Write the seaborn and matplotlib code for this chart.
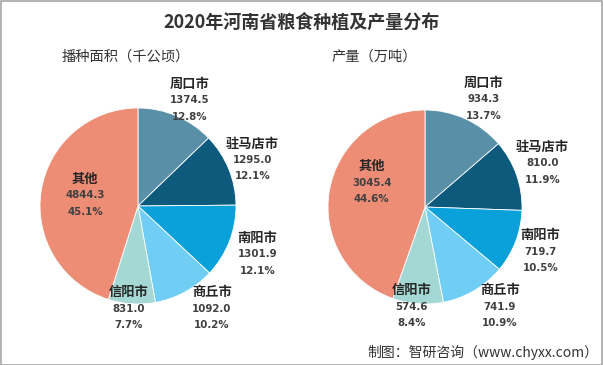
import matplotlib
matplotlib.use("Agg")
import matplotlib.pyplot as plt
import seaborn as sns
from matplotlib.patches import Rectangle

sns.set_style("white")
plt.rcParams['font.family'] = ['Noto Sans CJK SC', 'DejaVu Sans']

# ---- data ----
title = "2020年河南省粮食种植及产量分布"
categories = ["周口市", "驻马店市", "南阳市", "商丘市", "信阳市", "其他"]
area_values = [1374.5, 1295.0, 1301.9, 1092.0, 831.0, 4844.3]
area_pct = ["12.8%", "12.1%", "12.1%", "10.2%", "7.7%", "45.1%"]
output_values = [934.3, 810.0, 719.7, 741.9, 574.6, 3045.4]
output_pct = ["13.7%", "11.9%", "10.5%", "10.9%", "8.4%", "44.6%"]
sub_left = "播种面积（千公顷）"
sub_right = "产量（万吨）"
footer = "制图：智研咨询（www.chyxx.com）"

colors = sns.color_palette(["#5A8FA8", "#0D5A7D", "#0AA0D9", "#70CDF3", "#A3D8D5", "#EE8D76"])

W, H = 603, 365
fig = plt.figure(figsize=(W / 100, H / 100), dpi=100)
fig.patch.set_facecolor("white")

# label offsets (in pie-radius units) for each slice
left_pos = [(0.53, 1.08), (1.17, 0.47), (1.22, -0.49), (0.755, -1.05), (-0.10, -1.05), (-0.54, 0.11)]
right_pos = [(0.60, 1.11), (1.21, 0.45), (1.19, -0.46), (0.77, -1.03), (-0.14, -1.03), (-0.55, 0.25)]


def draw_pie(cx, cy, r, values, pcts, pos):
    ax = fig.add_axes([(cx - r) / W, (H - cy - r) / H, 2 * r / W, 2 * r / H])
    ax.pie(values, colors=colors, startangle=90, counterclock=False,
           wedgeprops=dict(edgecolor="white", linewidth=0.6))
    ax.set_xlim(-1, 1)
    ax.set_ylim(-1, 1)
    ax.set_aspect("equal")
    ax.axis("off")
    step = 16.5 / r
    for name, v, p, (x, y) in zip(categories, values, pcts, pos):
        ax.text(x, y + step, name, ha="center", va="center", fontsize=9.5,
                fontweight="bold", color="#262626", clip_on=False)
        ax.text(x, y, f"{v:.1f}", ha="center", va="center", fontsize=7.4,
                fontweight="bold", color="#404040", family=["DejaVu Sans"], clip_on=False)
        ax.text(x, y - step, p, ha="center", va="center", fontsize=7.4,
                fontweight="bold", color="#404040", family=["DejaVu Sans"], clip_on=False)
    return ax


draw_pie(138, 206, 98, area_values, area_pct, left_pos)
draw_pie(425, 207, 97, output_values, output_pct, right_pos)

fig.text(0.5, 1 - 22 / H, title, ha="center", va="center", fontsize=13,
         fontweight="heavy", color="#333333")
fig.text(62 / W, 1 - 57 / H, sub_left, ha="left", va="center", fontsize=10.3, color="#333333")
fig.text(332 / W, 1 - 57 / H, sub_right, ha="left", va="center", fontsize=10.3, color="#333333")
fig.text(598 / W, 1 - 352 / H, footer, ha="right", va="center", fontsize=10, color="#333333")

fig.patches.append(Rectangle((0.5 / W, 0.5 / H), 1 - 1.5 / W, 1 - 1.5 / H,
                             transform=fig.transFigure, fill=False,
                             edgecolor="#A6A6A6", linewidth=1.2))

fig.savefig("out.png", dpi=100, facecolor="white")
